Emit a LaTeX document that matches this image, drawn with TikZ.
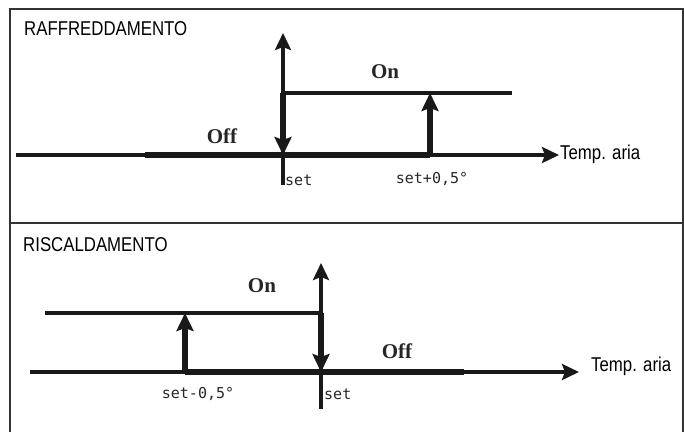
\documentclass[tikz,border=0pt]{standalone}
\usepackage{fontspec}
\setmainfont{Liberation Sans}
\newfontfamily\headfont[FakeStretch=0.84]{Liberation Sans}
\newfontfamily\lblfont{Liberation Serif}
\newfontfamily\setlblfont{DejaVu Sans Mono}
\usetikzlibrary{arrows.meta}
\tikzset{
  frameline/.style={line width=1.8pt, draw=black!80},
  thinline/.style={line width=3.4pt, draw=black!90},
  thickline/.style={line width=6pt, draw=black!90},
  axisarrow/.style={thinline, -{Stealth[length=17pt,width=16pt,inset=3pt]}},
  bigarrow/.style={thickline, -{Stealth[length=18pt,width=17pt,inset=3pt]}},
  heading/.style={anchor=west, inner sep=0pt, font=\headfont\fontsize{20}{24}\selectfont},
  tempaxis/.style={anchor=west, inner sep=0pt, font=\headfont\fontsize{20}{24}\selectfont},
  statelbl/.style={inner sep=0pt, font=\lblfont\bfseries\fontsize{21}{24}\selectfont, text=black!85},
  setlbl/.style={inner sep=0pt, font=\setlblfont\fontsize{15}{18}\selectfont, text=black!85},
}
\begin{document}
\begin{tikzpicture}[x=1pt, y=-1pt]
\useasboundingbox (0,0) rectangle (684,432);
% frame
\coordinate (fTL) at (10,9);
\coordinate (fTR) at (683,9);
\coordinate (fBL) at (10,432);
\coordinate (fBR) at (683,432);
\coordinate (dL) at (10,223);
\coordinate (dR) at (683,223);
\draw[frameline] (fBL) -- (fTL) -- (fTR) -- (fBR);
\draw[frameline] (dL) -- (dR);

% ===== RAFFREDDAMENTO =====
\node[heading] (h1) at (24,29) {RAFFREDDAMENTO};
\coordinate (a1L) at (16,155);
\coordinate (a1R) at (559,155);
\coordinate (t1a) at (145,155);
\coordinate (t1b) at (430,155);
\coordinate (v1B) at (283,185);
\coordinate (v1T) at (283,33);
\coordinate (v1On) at (283,93);
\coordinate (v1Ax) at (283,155);
\coordinate (on1R) at (512,93);
\coordinate (up1T) at (430,93);
\draw[axisarrow] (a1L) -- (a1R);
\draw[thickline] (t1a) -- (t1b);
\draw[axisarrow] (v1B) -- (v1T);
\draw[thinline] (v1On) -- (on1R);
\draw[bigarrow] (v1On) -- (v1Ax);
\draw[bigarrow] (t1b) -- (up1T);
\node[statelbl] (on1) at (385,72) {On};
\node[statelbl] (off1) at (222,136) {Off};
\node[setlbl, anchor=west] (set1) at (285,180) {set};
\node[setlbl] (setp) at (432,179) {set+0,5°};
\node[tempaxis] (temp1) at (560,154) {Temp. aria};

% ===== RISCALDAMENTO =====
\node[heading] (h2) at (23,245) {RISCALDAMENTO};
\coordinate (a2L) at (30,372);
\coordinate (a2R) at (579,372);
\coordinate (t2a) at (185,372);
\coordinate (t2b) at (464,372);
\coordinate (v2B) at (321,409);
\coordinate (v2T) at (321,263);
\coordinate (v2On) at (321,313);
\coordinate (v2Ax) at (321,372);
\coordinate (on2L) at (45,313);
\coordinate (up2T) at (185,313);
\draw[axisarrow] (a2L) -- (a2R);
\draw[thickline] (t2a) -- (t2b);
\draw[axisarrow] (v2B) -- (v2T);
\draw[thinline] (on2L) -- (v2On);
\draw[bigarrow] (v2On) -- (v2Ax);
\draw[bigarrow] (t2a) -- (up2T);
\node[statelbl] (on2) at (262,286) {On};
\node[statelbl] (off2) at (397,351) {Off};
\node[setlbl, anchor=west] (set2) at (324,394) {set};
\node[setlbl] (setm) at (198,394) {set-0,5°};
\node[tempaxis] (temp2) at (591,366) {Temp. aria};
\end{tikzpicture}
\end{document}
